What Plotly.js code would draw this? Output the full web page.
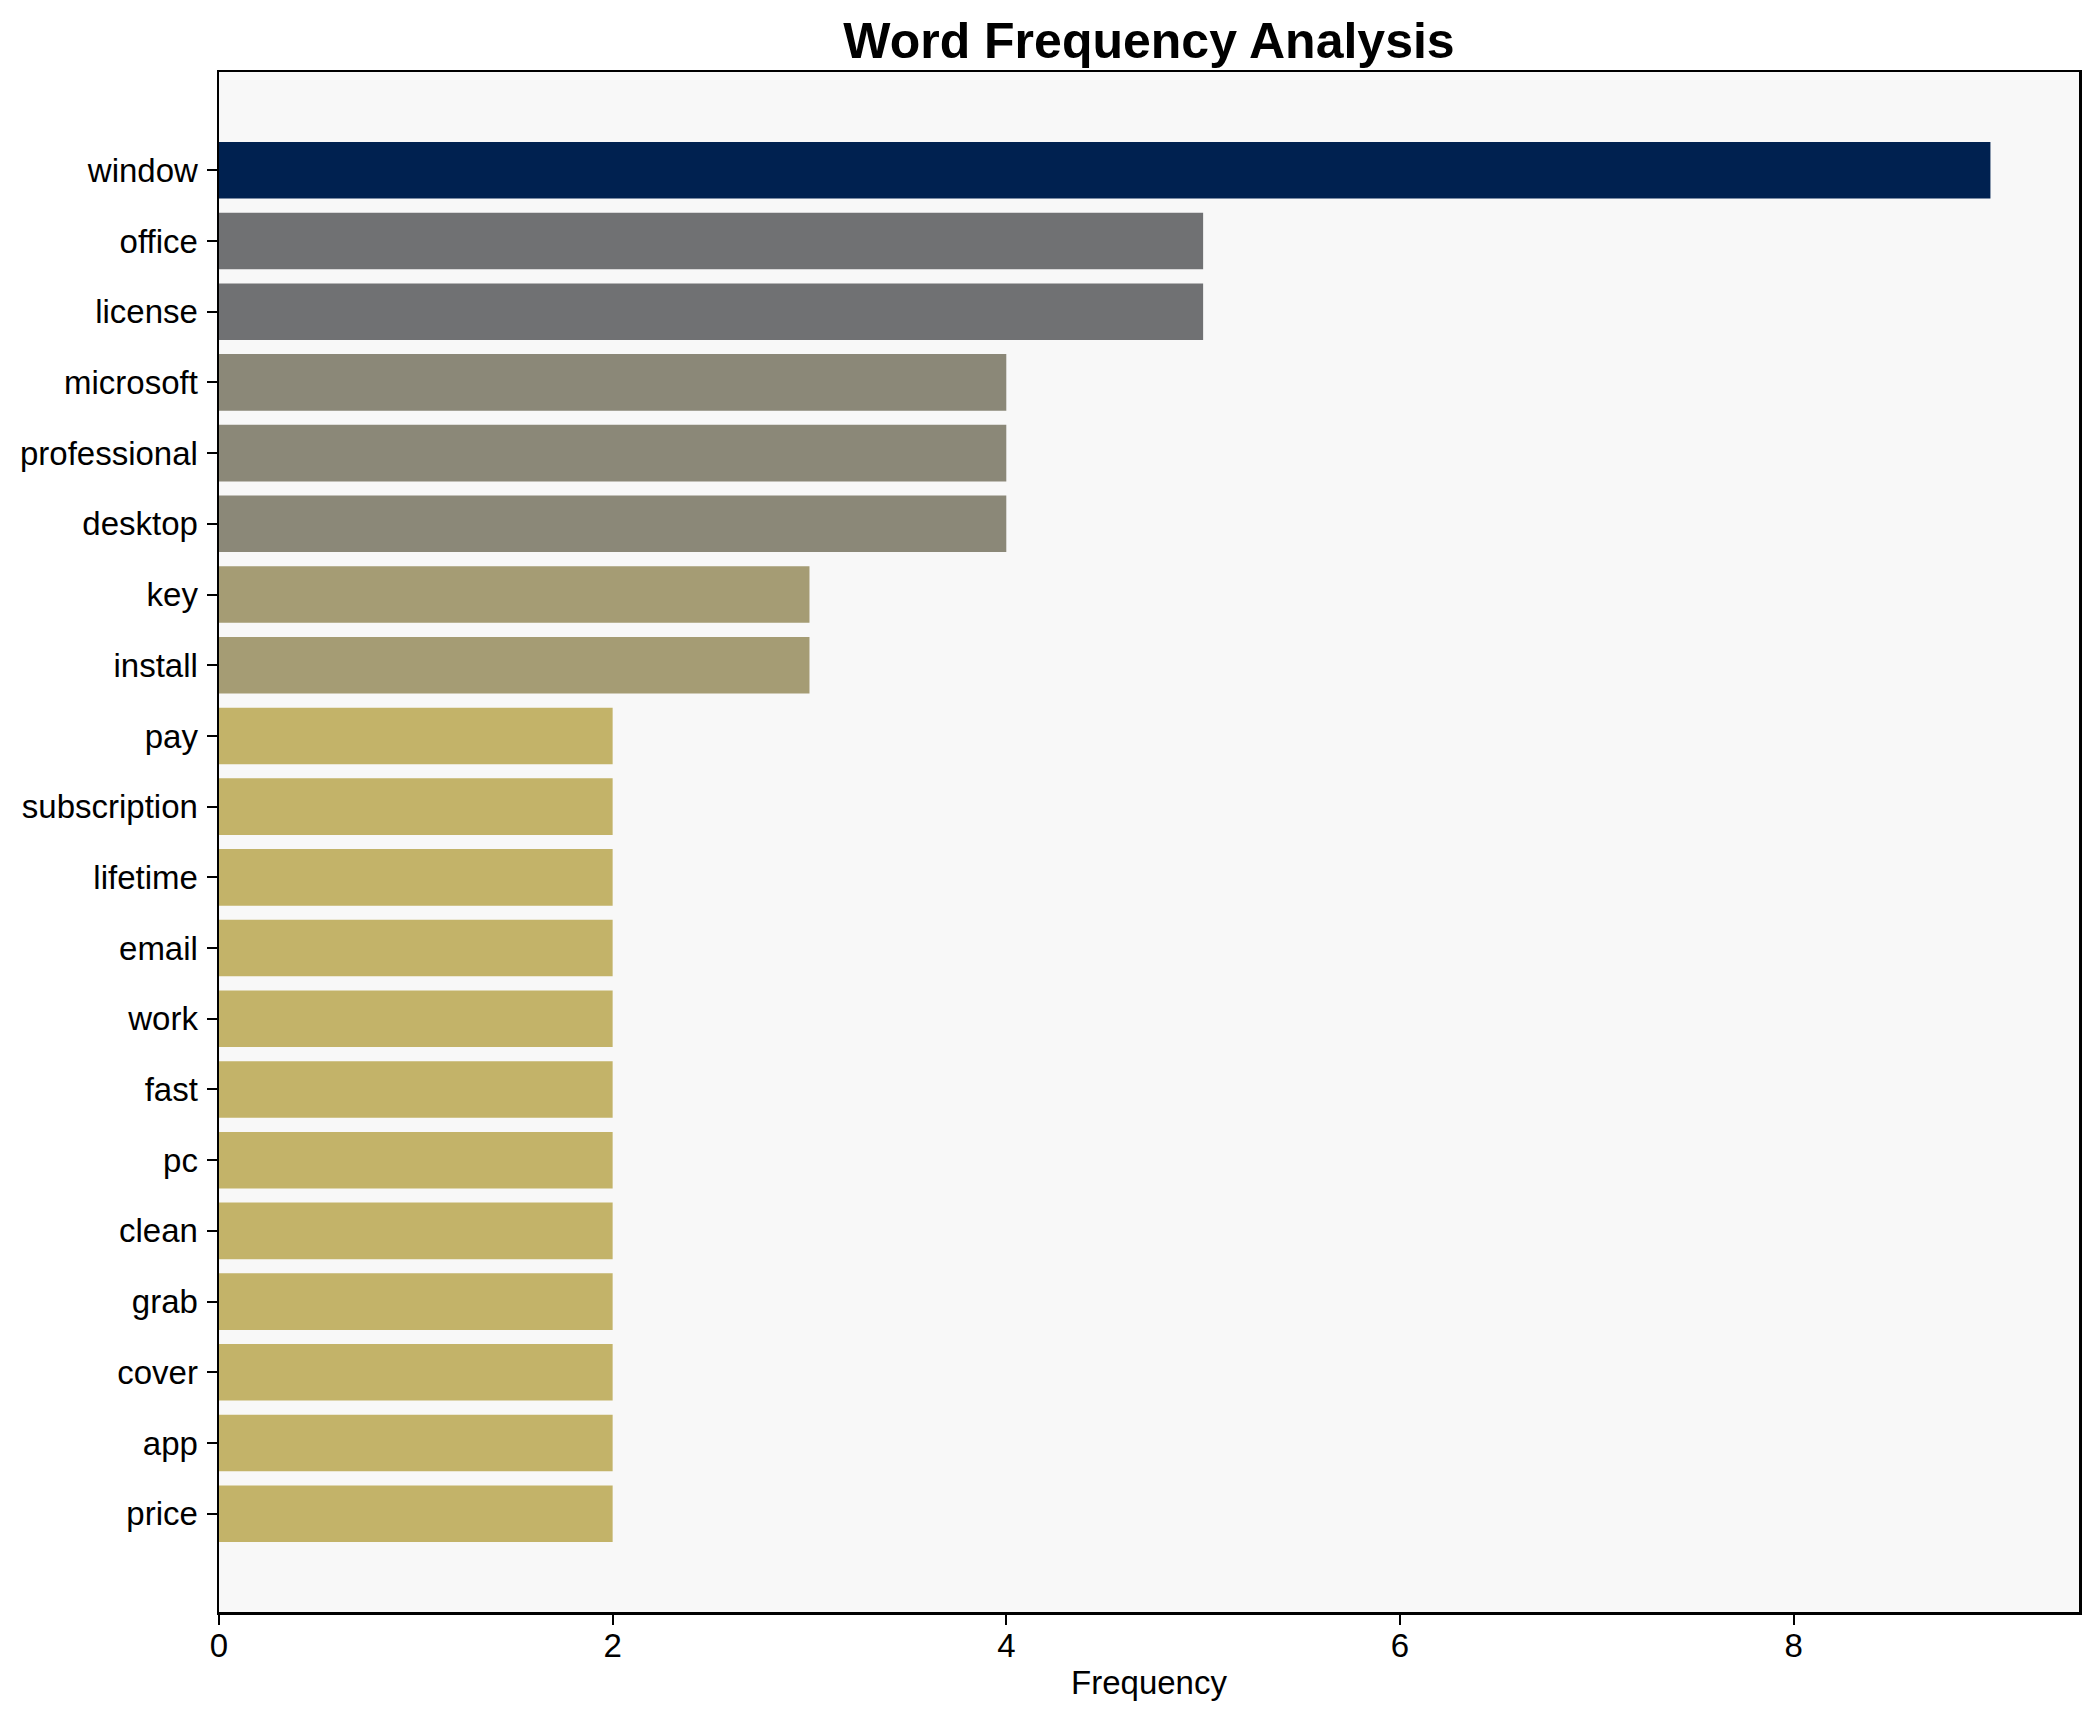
<!DOCTYPE html>
<html>
<head>
<meta charset="utf-8">
<script src="https://cdn.plot.ly/plotly-3.0.1.min.js"></script>
<style>html,body{margin:0;padding:0;background:#fff;}#chart{width:2099px;height:1722px;}</style>
</head>
<body>
<div id="chart"></div>
<script>
const words = ["window","office","license","microsoft","professional","desktop","key","install","pay","subscription","lifetime","email","work","fast","pc","clean","grab","cover","app","price"];
const counts = [9,5,5,4,4,4,3,3,2,2,2,2,2,2,2,2,2,2,2,2];
const xTicks = [0,2,4,6,8];

const colorByCount = {9:"#002150", 5:"#707173", 4:"#8b8878", 3:"#a59c74", 2:"#c3b369"};
const colors = counts.map(c => colorByCount[c]);

const n = words.length;
const font = "Liberation Sans, Arial, sans-serif";

Plotly.newPlot("chart", [{
  type: "bar",
  orientation: "h",
  x: counts,
  y: words,
  width: 0.8,
  marker: {color: colors, line: {width: 0}},
  hoverinfo: "x+y"
}], {
  width: 2099, height: 1722,
  margin: {l: 219, r: 20, t: 72, b: 110, pad: 0},
  paper_bgcolor: "#ffffff",
  plot_bgcolor: "#f8f8f8",
  title: {text: "<b>Word Frequency Analysis</b>", font: {family: font, size: 50, color: "#000"}, x: 0.5, xref: "paper", xanchor: "center", y: 1 - 40/1722, yanchor: "middle"},
  xaxis: {
    range: [0, 9.45],
    tickvals: xTicks,
    ticktext: xTicks.map(String),
    ticks: "outside", ticklen: 10, tickwidth: 2, tickcolor: "#000",
    showgrid: false, zeroline: false,
    showline: true, linecolor: "#000", linewidth: 2.5, mirror: true,
    tickfont: {family: font, size: 33, color: "#000"},
    ticklabelstandoff: -7,
    title: {text: "Frequency", font: {family: font, size: 33, color: "#000"}, standoff: 8}
  },
  yaxis: {
    type: "category",
    range: [n - 1 + 0.4 + 0.99, -0.4 - 0.99],
    ticks: "outside", ticklen: 10, tickwidth: 2, tickcolor: "#000",
    showgrid: false, zeroline: false,
    showline: true, linecolor: "#000", linewidth: 2.5, mirror: true,
    tickfont: {family: font, size: 33, color: "#000"},
    ticklabelstandoff: 2
  },
  showlegend: false
}, {displayModeBar: false, staticPlot: true});
</script>
</body>
</html>
